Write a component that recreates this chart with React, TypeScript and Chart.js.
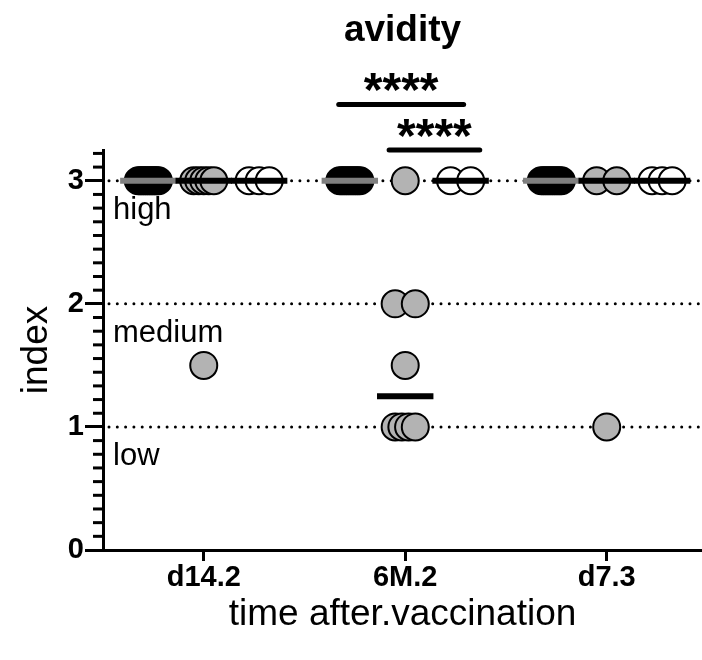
import React, { useEffect, useRef } from "react";
import { Chart, registerables } from "chart.js";

Chart.register(...registerables);

const FONT = "'Liberation Sans', Arial, Helvetica, sans-serif";

// ---- data ----
const categories = ["d14.2", "6M.2", "d7.3"];
const chartTitle = "avidity";
const xTitle = "time after.vaccination";
const yTitle = "index";
const yTickValues = [0, 1, 2, 3];
const levelValues = [3, 2, 1];
const levelNames = ["high", "medium", "low"];

// black group (one array per category)
const blackD14 = [3, 3, 3, 3, 3, 3, 3, 3, 3, 3, 3, 3];
const blackM6 = [3, 3, 3, 3, 3, 3, 3, 3, 3, 3];
const blackD7 = [3, 3, 3, 3, 3, 3, 3, 3, 3, 3];
// gray group
const grayD14 = [3, 3, 3, 3, 3, 1.5];
const grayM6 = [3, 2, 2, 1.5, 1, 1, 1, 1];
const grayD7 = [3, 3, 1];
// white group
const whiteD14 = [3, 3, 3];
const whiteM6 = [3, 3];
const whiteD7 = [3, 3, 3];

// significance comparisons: x in category units, y level in index units
const sigFrom = [0.67, 0.92];
const sigTo = [1.29, 1.37];
const sigLevel = [3.62, 3.25];
const sigText = ["****", "****"];

// ---- styling / layout constants ----
const GROUP_OFFSET = [-0.275, 0, 0.275];
const SPREAD = 0.05;
const MEDIAN_HALF = 0.14;
const groupFill = ["#000000", "#b3b3b3", "#ffffff"];
const medianColor = ["#7f7f7f", "#000000", "#000000"];

const groups = [
  [blackD14, blackM6, blackD7],
  [grayD14, grayM6, grayD7],
  [whiteD14, whiteM6, whiteD7],
];

function median(arr: number[]) {
  const s = [...arr].sort((a, b) => a - b);
  const n = s.length;
  return n % 2 ? s[(n - 1) / 2] : (s[n / 2 - 1] + s[n / 2]) / 2;
}

function swarm(values: number[], center: number) {
  const counts: Record<string, number> = {};
  values.forEach((v) => (counts[v] = (counts[v] || 0) + 1));
  const seen: Record<string, number> = {};
  return values.map((v) => {
    const n = counts[v];
    const i = seen[v] || 0;
    seen[v] = i + 1;
    const off = n > 1 ? -SPREAD + (2 * SPREAD * i) / (n - 1) : 0;
    return { x: center + off, y: v };
  });
}

const overlay = {
  id: "overlay",
  beforeDatasetsDraw(chart: any) {
    const { ctx, chartArea, scales } = chart;
    const y = scales.y;
    ctx.save();
    // dotted reference lines
    ctx.strokeStyle = "#000";
    ctx.lineWidth = 3;
    ctx.lineCap = "round";
    ctx.setLineDash([0, 8.3]);
    levelValues.forEach((v) => {
      const py = y.getPixelForValue(v);
      ctx.beginPath();
      ctx.moveTo(chartArea.left + 6, py);
      ctx.lineTo(chartArea.right + 10, py);
      ctx.stroke();
    });
    ctx.setLineDash([]);
    // level labels
    ctx.fillStyle = "#000";
    ctx.font = `31px ${FONT}`;
    ctx.textAlign = "left";
    ctx.textBaseline = "alphabetic";
    levelValues.forEach((v, i) => {
      const py = y.getPixelForValue(v);
      ctx.fillText(levelNames[i], chartArea.left + 10, py + 38);
    });
    ctx.restore();
  },
  afterDatasetsDraw(chart: any) {
    const { ctx, chartArea, scales } = chart;
    const x = scales.x;
    const y = scales.y;
    ctx.save();
    // medians
    ctx.lineCap = "butt";
    ctx.lineWidth = 6;
    groups.forEach((byCat, g) => {
      byCat.forEach((vals, c) => {
        const m = median(vals);
        const cx = c + GROUP_OFFSET[g];
        ctx.strokeStyle = medianColor[g];
        ctx.beginPath();
        ctx.moveTo(x.getPixelForValue(cx - MEDIAN_HALF), y.getPixelForValue(m));
        ctx.lineTo(x.getPixelForValue(cx + MEDIAN_HALF), y.getPixelForValue(m));
        ctx.stroke();
      });
    });
    // minor ticks on y axis
    ctx.strokeStyle = "#000";
    ctx.lineWidth = 3;
    for (let k = 1; k <= 29; k++) {
      if (k % 9 === 0) continue;
      const py = y.getPixelForValue(k / 9);
      ctx.beginPath();
      ctx.moveTo(chartArea.left - 10, py);
      ctx.lineTo(chartArea.left, py);
      ctx.stroke();
    }
    // significance bars
    ctx.lineCap = "round";
    ctx.lineWidth = 5;
    ctx.fillStyle = "#000";
    ctx.font = `bold 48px ${FONT}`;
    ctx.textAlign = "center";
    ctx.textBaseline = "alphabetic";
    sigFrom.forEach((f, i) => {
      const x1 = x.getPixelForValue(f);
      const x2 = x.getPixelForValue(sigTo[i]);
      const py = y.getPixelForValue(sigLevel[i]);
      ctx.beginPath();
      ctx.moveTo(x1, py);
      ctx.lineTo(x2, py);
      ctx.stroke();
      ctx.fillText(sigText[i], (x1 + x2) / 2, py + 2);
    });
    // titles
    const midX = (chartArea.left + chartArea.right) / 2;
    ctx.font = `bold 37px ${FONT}`;
    ctx.fillText(chartTitle, midX, 41);
    ctx.font = `37px ${FONT}`;
    ctx.fillText(xTitle, midX, 625);
    ctx.translate(47, (chartArea.top + chartArea.bottom) / 2);
    ctx.rotate(-Math.PI / 2);
    ctx.fillText(yTitle, 0, 0);
    ctx.restore();
  },
};

export default function App() {
  const ref = useRef<HTMLCanvasElement | null>(null);
  useEffect(() => {
    if (!ref.current) return;
    const datasets = groups.map((byCat, g) => ({
      label: ["black", "gray", "white"][g],
      data: byCat.flatMap((vals, c) => swarm(vals, c + GROUP_OFFSET[g])),
      backgroundColor: groupFill[g],
      borderColor: "#000",
      borderWidth: 2,
      pointRadius: 13.5,
      pointHoverRadius: 13.5,
      showLine: false,
      clip: false as any,
    }));
    const tickFont = { family: FONT, size: 29, weight: "bold" as any };
    const chart = new Chart(ref.current, {
      type: "scatter",
      data: { datasets },
      plugins: [overlay],
      options: {
        animation: false,
        responsive: false,
        maintainAspectRatio: false,
        events: [],
        layout: { autoPadding: false, padding: { top: 150, left: 0, right: 0, bottom: 0 } },
        plugins: { legend: { display: false }, tooltip: { enabled: false } },
        scales: {
          x: {
            type: "linear",
            min: -0.5,
            max: 2.473,
            afterBuildTicks: (s: any) => {
              s.ticks = categories.map((_, i) => ({ value: i }));
            },
            afterFit: (s: any) => {
              s.height = 110;
              s.paddingLeft = 0;
              s.paddingRight = 0;
            },
            ticks: {
              callback: (v: any) => categories[v as number] ?? "",
              font: tickFont,
              color: "#000",
              padding: 0,
              maxRotation: 0,
              autoSkip: false,
            },
            grid: {
              display: true,
              drawOnChartArea: false,
              drawTicks: true,
              tickLength: 11,
              tickWidth: 3,
              tickColor: "#000",
              color: "#000",
            },
            border: { display: true, color: "#000", width: 3 },
          },
          y: {
            type: "linear",
            min: 0,
            max: 3.25,
            afterBuildTicks: (s: any) => {
              s.ticks = yTickValues.map((v) => ({ value: v }));
            },
            afterFit: (s: any) => {
              s.width = 103;
              s.paddingTop = 0;
              s.paddingBottom = 0;
            },
            ticks: {
              callback: (v: any) => String(v),
              font: tickFont,
              color: "#000",
              padding: 1,
            },
            grid: {
              display: true,
              drawOnChartArea: false,
              drawTicks: true,
              tickLength: 18,
              tickWidth: 3,
              tickColor: "#000",
              color: "#000",
            },
            border: { display: true, color: "#000", width: 3 },
          },
        },
      },
    });
    return () => chart.destroy();
  }, []);
  return (
    <div style={{ position: "absolute", left: 0, top: 0, width: 702, height: 660, background: "#fff" }}>
      <canvas ref={ref} width={702} height={660} />
    </div>
  );
}
